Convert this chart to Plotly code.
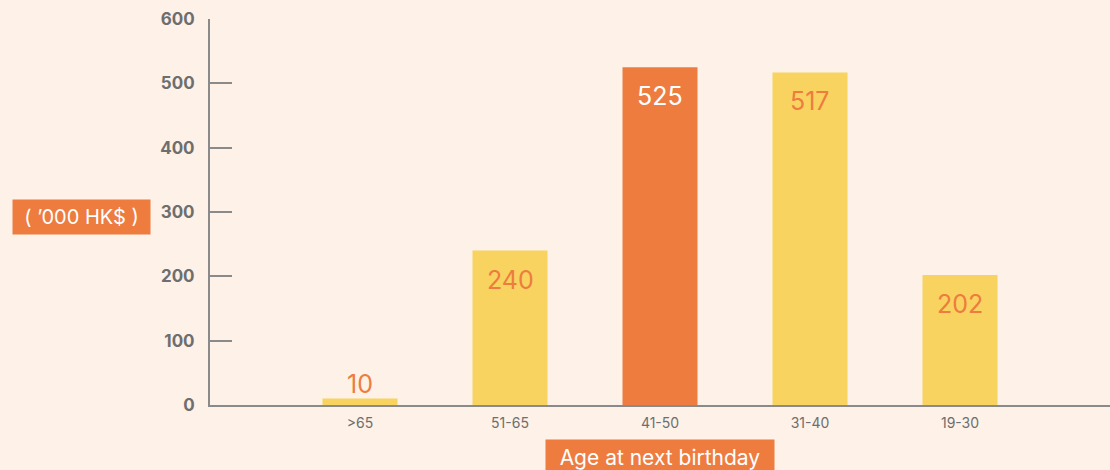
import plotly.graph_objects as go

categories = [">65", "51-65", "41-50", "31-40", "19-30"]
values = [10, 240, 525, 517, 202]
bar_colors = ["#F8D35F", "#F8D35F", "#EE7C3F", "#F8D35F", "#F8D35F"]
label_colors = ["#EE7C3F", "#EE7C3F", "#FFFFFF", "#EE7C3F", "#EE7C3F"]
y_ticks = [0, 100, 200, 300, 400, 500, 600]

BG = "#FDF1E8"
ORANGE = "#EE7C3F"
GRAY = "#6E6E6E"
AXIS = "#8A8A8A"
FONT = "Inter"

fig = go.Figure()
fig.add_trace(go.Bar(
    x=categories, y=values,
    marker=dict(color=bar_colors, line=dict(width=0)),
    width=0.5,
    hoverinfo="skip",
))

annotations = []
for cat, val, col in zip(categories, values, label_colors):
    inside = val > 60
    annotations.append(dict(
        text=str(val), x=cat, y=val, xref="x", yref="y",
        xanchor="center", yanchor="top" if inside else "bottom",
        yshift=-12 if inside else -2, showarrow=False,
        font=dict(family=FONT, size=25, color=col),
    ))

annotations += [
    dict(text="( ’000 HK$ )", xref="paper", yref="paper",
         x=-0.1433, y=0.487, xanchor="center", yanchor="middle",
         showarrow=False, bgcolor=ORANGE, borderpad=5,
         font=dict(family=FONT, size=20, color="white"),
         width=127),
    dict(text="Age at next birthday", xref="x", yref="paper",
         x="41-50", y=-0.088, xanchor="center", yanchor="top",
         showarrow=False, bgcolor=ORANGE, borderpad=5,
         font=dict(family=FONT, size=21, color="white"),
         width=218),
]

fig.update_layout(
    width=1110, height=470,
    paper_bgcolor=BG, plot_bgcolor=BG,
    margin=dict(l=210, r=0, t=19, b=65),
    showlegend=False,
    hovermode=False,
    xaxis=dict(
        type="category", range=[-1, 5],
        showline=True, linecolor=AXIS, linewidth=2,
        showgrid=False, zeroline=False,
        ticks="", tickfont=dict(family=FONT, size=14, color=GRAY),
        ticklabelstandoff=4,
    ),
    yaxis=dict(
        range=[0, 600], tickvals=y_ticks,
        showline=True, linecolor=AXIS, linewidth=2,
        showgrid=False, zeroline=False,
        ticks="inside", ticklen=22, tickcolor=AXIS, tickwidth=1.5,
        tickfont=dict(family=FONT, size=17, color=GRAY, weight="bold"),
        ticklabelstandoff=10,
    ),
    annotations=annotations,
)

fig.write_html("out.html", config={"displayModeBar": False},
               post_script="document.body.style.margin='0';")
